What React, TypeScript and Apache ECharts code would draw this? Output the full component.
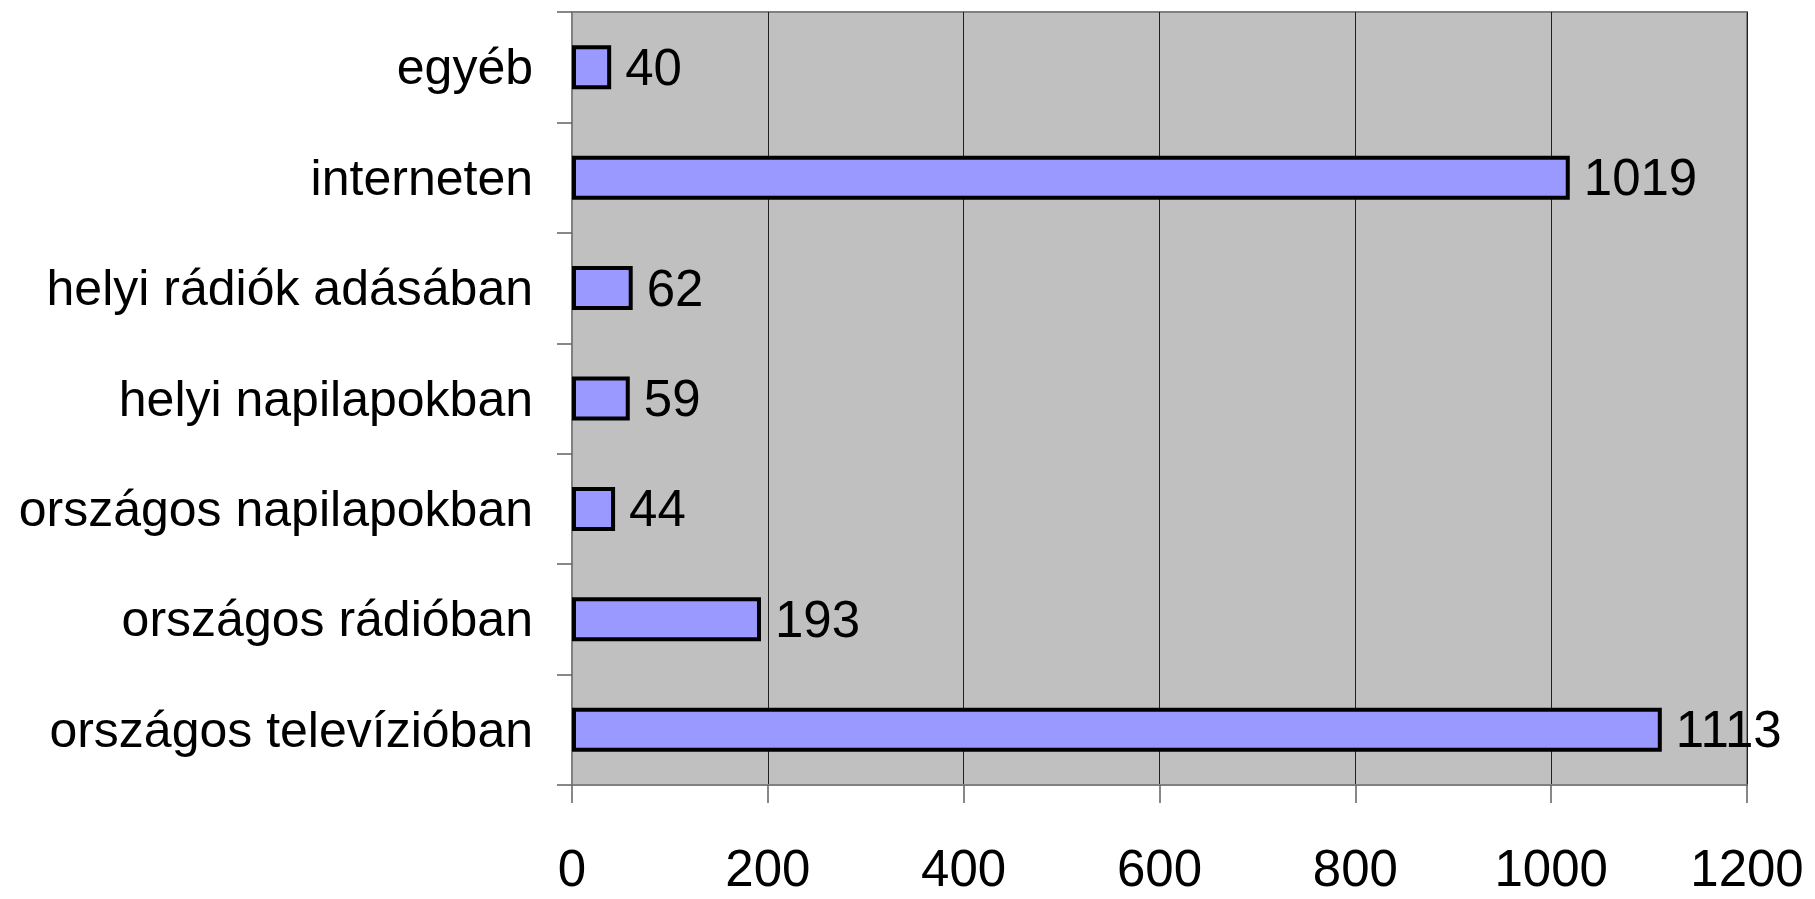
import React, { useEffect, useRef } from "react";
import * as echarts from "echarts";

const categories = [
  "országos televízióban",
  "országos rádióban",
  "országos napilapokban",
  "helyi napilapokban",
  "helyi rádiók adásában",
  "interneten",
  "egyéb",
];
const values = [1113, 193, 44, 59, 62, 1019, 40];
const xTicks = { min: 0, max: 1200, interval: 200 };

const FONT = "'Liberation Sans Narrow', 'Arial Narrow', 'Liberation Sans', Arial, sans-serif";

export default function App() {
  const ref = useRef<HTMLDivElement>(null);
  useEffect(() => {
    document.body.style.margin = "0";
    const chart = echarts.init(ref.current!, null, { renderer: "svg" });
    chart.setOption({
      animation: false,
      backgroundColor: "#ffffff",
      textStyle: { fontFamily: FONT },
      grid: {
        left: 572,
        right: 68,
        top: 12,
        bottom: 114,
        show: true,
        containLabel: false,
        outerBoundsMode: "none",
        backgroundColor: "#C0C0C0",
        borderColor: "#808080",
        borderWidth: 2,
      },
      xAxis: {
        type: "value",
        min: xTicks.min,
        max: xTicks.max,
        interval: xTicks.interval,
        axisLine: { show: true, lineStyle: { color: "#808080", width: 2 } },
        axisTick: { show: true, length: 18, lineStyle: { color: "#606060", width: 1.5 } },
        splitLine: { show: true, lineStyle: { color: "#202020", width: 1 } },
        axisLabel: {
          color: "#000",
          fontSize: 51,
          margin: 58,
          fontFamily: FONT,
          formatter: (v: number) => String(v),
        },
      },
      yAxis: {
        type: "category",
        data: categories,
        axisLine: { show: true, lineStyle: { color: "#808080", width: 2 } },
        axisTick: { show: true, length: 15, lineStyle: { color: "#606060", width: 1.5 } },
        splitLine: { show: false },
        axisLabel: { color: "#000", fontSize: 50, margin: 39, fontFamily: FONT },
      },
      series: [
        {
          type: "bar",
          data: values,
          barWidth: 44,
          itemStyle: { color: "#9999FF", borderColor: "#000", borderWidth: 4 },
          label: {
            show: true,
            position: "right",
            distance: 14,
            color: "#000",
            fontSize: 51,
            fontFamily: FONT,
          },
        },
      ],
    });
    return () => chart.dispose();
  }, []);
  return <div ref={ref} style={{ width: 1815, height: 899 }} />;
}
